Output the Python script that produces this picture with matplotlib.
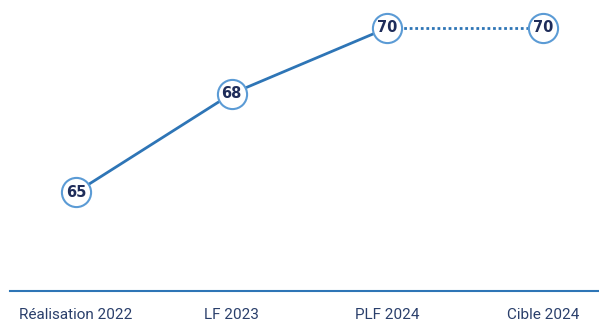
import matplotlib.pyplot as plt

# données
categories = ["Réalisation 2022", "LF 2023", "PLF 2024", "Cible 2024"]
valeurs = [65, 68, 70, 70]

plt.rcParams['font.family'] = ['Liberation Sans Narrow', 'Roboto', 'DejaVu Sans']

fig = plt.figure(figsize=(5.99, 3.21), dpi=100)
ax = fig.add_axes([10 / 599, 1 - 291 / 321, 589 / 599, 291 / 321])

x = list(range(len(categories)))
bleu = "#2e75b6"
bleu_clair = "#5b9bd5"

# trait plein jusqu'au PLF, pointillé vers la cible
ax.plot(x[:3], valeurs[:3], color=bleu, lw=2, zorder=1)
ax.plot(x[2:], valeurs[2:], color=bleu, lw=2, ls=(0, (1, 1)), zorder=1)
ax.plot(x, valeurs, "o", ms=21, mfc="white", mec=bleu_clair, mew=1.5, zorder=2)

for xi, v in zip(x, valeurs):
    ax.text(xi, v, str(v), ha="center", va="center", fontsize=10.5,
            fontweight="bold", color="#1f2d5a", family="DejaVu Sans", zorder=3)

ax.set_xlim(-0.424, 3.36)
ax.set_ylim(62, 70.85)
ax.set_xticks(x)
ax.set_xticklabels(categories, fontsize=11, color="#2a3f6b")
ax.tick_params(axis="x", length=0, pad=12)
ax.set_yticks([])
for s in ["top", "right", "left"]:
    ax.spines[s].set_visible(False)
ax.spines["bottom"].set_color(bleu)
ax.spines["bottom"].set_linewidth(1.5)

fig.savefig("out.png", dpi=100)
